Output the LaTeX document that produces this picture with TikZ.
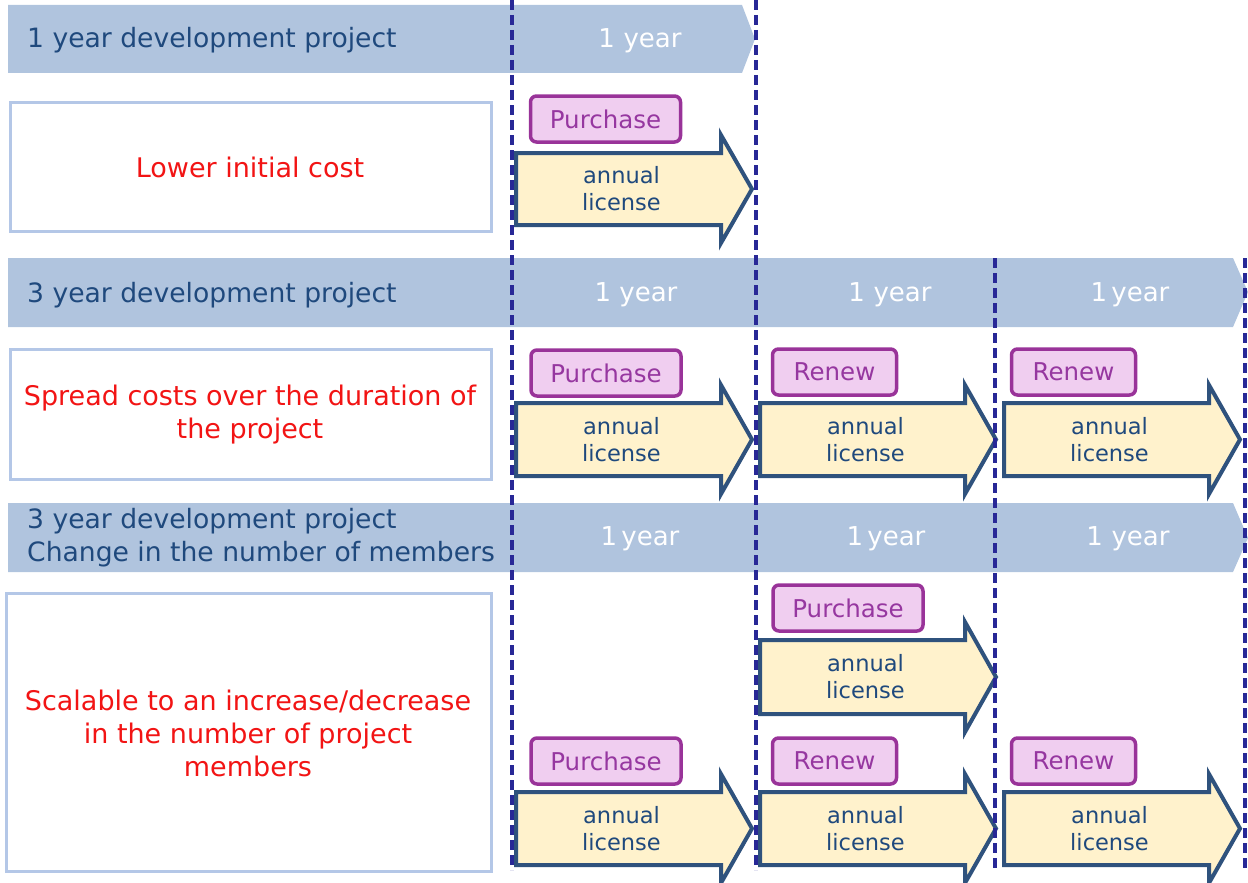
\documentclass[tikz,border=0pt]{standalone}
\usepackage{fontspec}
\setmainfont{DejaVu Sans}
\definecolor{bandc}{RGB}{176,196,222}
\definecolor{dblue}{RGB}{31,73,125}
\definecolor{boxb}{RGB}{180,199,231}
\definecolor{redt}{RGB}{242,20,20}
\definecolor{purb}{RGB}{153,51,153}
\definecolor{purf}{RGB}{240,206,240}
\definecolor{purt}{RGB}{150,55,160}
\definecolor{arrf}{RGB}{255,242,204}
\definecolor{arrb}{RGB}{47,82,125}
\definecolor{vlc}{RGB}{40,40,150}
\tikzset{
  band/.style={fill=bandc, draw=none},
  lbl/.style={anchor=west, text=dblue, font=\fontsize{26.6}{33}\selectfont, align=left, inner sep=0pt},
  yr/.style={text=white, font=\fontsize{26}{33}\selectfont, inner sep=0pt},
  whitebox/.style={draw=boxb, line width=3pt, fill=white},
  boxtxt/.style={text=redt, font=\fontsize{27}{33}\selectfont, align=center, inner sep=0pt},
  ptag/.style={draw=purb, fill=purf, line width=3.5pt, rounded corners=6pt, text=purt,
    font=\fontsize{24.5}{28}\selectfont, minimum height=46pt, inner sep=0pt},
  arr/.style={draw=arrb, fill=arrf, line width=4pt, line join=miter},
  arrtxt/.style={text=dblue, font=\fontsize{22.5}{27}\selectfont, align=center, inner sep=0pt},
  vline/.style={draw=vlc, line width=3.5pt, dash pattern=on 10pt off 5pt},
}
\newcommand\licarrow[5]{%
  \draw[arr] (#2,#4) -- ({#3-31},#4) -- ({#3-31},{#4-18}) -- (#3,{(#4+#5)/2})
    -- ({#3-31},{#5+18}) -- ({#3-31},#5) -- (#2,#5) -- cycle;
  \node[arrtxt] (#1) at ({(#2+#3-31)/2+3},{(#4+#5)/2}) {annual\\license};
}
\begin{document}
\begin{tikzpicture}[x=1pt,y=-1pt]
\useasboundingbox (0,0) rectangle (1248,883);
% bands
\draw[band] (8,5) -- (742,5) -- (755,39) -- (742,73) -- (8,73) -- cycle;
\draw[band] (8,258) -- (1233,258) -- (1248,292) -- (1233,327) -- (8,327) -- cycle;
\draw[band] (8,503) -- (1233,503) -- (1248,538) -- (1233,572) -- (8,572) -- cycle;
\node[lbl] (b1) at (27,40) {1 year development project};
\node[lbl] (b2) at (27,295) {3 year development project};
\node[lbl] (b3) at (27,538) {3 year development project\\Change in the number of members};
\node[yr] (y11) at (640,41) {1\,\,year};
\node[yr] (y21) at (636,295) {1 year};
\node[yr] (y22) at (890,295) {1\,\,year};
\node[yr] (y23) at (1130,295) {1\,year};
\node[yr] (y31) at (640,539) {1\,year};
\node[yr] (y32) at (886,539) {1\,year};
\node[yr] (y33) at (1128,539) {1\,\,year};
% white boxes
\draw[whitebox] (10,102) rectangle (491,231);
\draw[whitebox] (10,349) rectangle (491,479);
\draw[whitebox] (6,593) rectangle (491,871);
\node[boxtxt] (t1) at (250,167) {Lower initial cost};
\node[boxtxt] (t2) at (250,415) {Spread costs over the duration of\\the project};
\node[boxtxt] (t3) at (248,733) {Scalable to an increase/decrease\\in the number of project\\members};
% row 1
\node[ptag, minimum width=150pt] (p1) at (605.5,119) {Purchase};
\licarrow{a1}{516}{752}{153}{225}
% row 2
\node[ptag, minimum width=150pt] (p2) at (606,373) {Purchase};
\node[ptag, minimum width=124pt] (r21) at (834.5,372) {Renew};
\node[ptag, minimum width=124pt] (r22) at (1073.5,372) {Renew};
\licarrow{a21}{516}{752}{403}{476}
\licarrow{a22}{760}{996}{403}{476}
\licarrow{a23}{1004}{1240}{403}{476}
% row 3
\node[ptag, minimum width=150pt] (p31) at (848,608) {Purchase};
\licarrow{a31}{760}{996}{640}{714}
\node[ptag, minimum width=150pt] (p32) at (606,761) {Purchase};
\node[ptag, minimum width=124pt] (r31) at (834.5,761) {Renew};
\node[ptag, minimum width=124pt] (r32) at (1073.5,761) {Renew};
\licarrow{a32}{516}{752}{792}{865}
\licarrow{a33}{760}{996}{792}{865}
\licarrow{a34}{1004}{1240}{792}{865}
% dashed lines
\coordinate (l1t) at (512,0); \coordinate (l1b) at (512,870);
\coordinate (l2t) at (756,0); \coordinate (l2b) at (756,870);
\coordinate (l3t) at (995,258); \coordinate (l3b) at (995,870);
\coordinate (l4t) at (1245,258); \coordinate (l4b) at (1245,870);
\draw[vline] (l1t) -- (l1b);
\draw[vline] (l2t) -- (l2b);
\draw[vline] (l3t) -- (l3b);
\draw[vline] (l4t) -- (l4b);
\end{tikzpicture}
\end{document}
